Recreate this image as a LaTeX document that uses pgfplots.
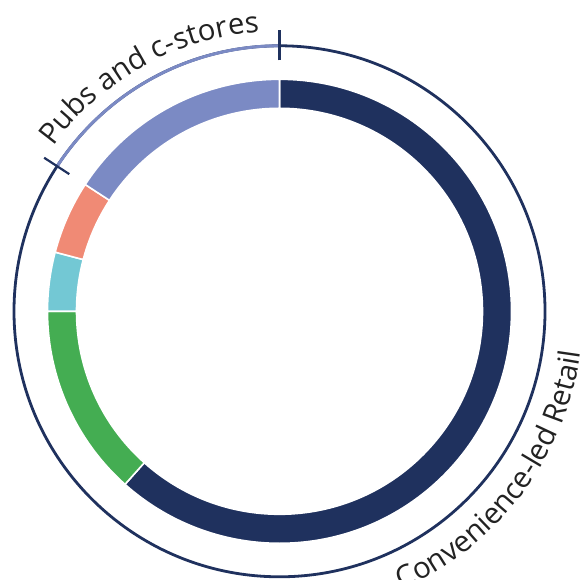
\documentclass[border=0pt]{standalone}
\usepackage{pgfplots}
\pgfplotsset{compat=1.18}
\usepackage{pgfplotstable}
\usepackage{fontspec}
\usetikzlibrary{decorations.text}
\newfontfamily\lab{Open Sans}
\definecolor{cnavy}{HTML}{1F315E}
\definecolor{cgreen}{HTML}{44AD52}
\definecolor{ccyan}{HTML}{73C8D4}
\definecolor{csalmon}{HTML}{F08A75}
\definecolor{clav}{HTML}{7B8AC4}
\definecolor{ctext}{HTML}{222222}

% shares (percent), clockwise from 12 o'clock
\pgfplotstableread{
share
61.6
13.4
4.1
5.1
15.8
}\donut

\pgfplotstablegetelem{0}{share}\of\donut \let\sA\pgfplotsretval
\pgfplotstablegetelem{1}{share}\of\donut \let\sB\pgfplotsretval
\pgfplotstablegetelem{2}{share}\of\donut \let\sC\pgfplotsretval
\pgfplotstablegetelem{3}{share}\of\donut \let\sD\pgfplotsretval
\pgfplotstablegetelem{4}{share}\of\donut \let\sE\pgfplotsretval
\pgfmathsetmacro\aA{90}
\pgfmathsetmacro\aB{\aA-3.6*\sA}
\pgfmathsetmacro\aC{\aB-3.6*\sB+360}
\pgfmathsetmacro\aD{\aC-3.6*\sC}
\pgfmathsetmacro\aE{\aD-3.6*\sD}
\pgfmathsetmacro\aF{\aE-3.6*\sE}

\newcommand\seg[3]{%
  \fill[#1, draw=white, line width=1.6bp] (#2:232bp) arc[start angle=#2, end angle=#3, radius=232bp]
    -- (#3:203bp) arc[start angle=#3, end angle=#2, radius=203bp] -- cycle;}

\begin{document}
\begin{tikzpicture}
\begin{axis}[
  hide axis, scale only axis,
  width=579bp, height=580bp,
  xmin=-279.5, xmax=299.5, ymin=-268.7, ymax=311.3,
  clip=true,
]
\coordinate (ll) at (rel axis cs:0,0);
\coordinate (ur) at (rel axis cs:1,1);
\begin{scope}[shift={(axis cs:0,0)}]
  \seg{cnavy}{\aA}{\aB}
  \seg{cgreen}{\aB+360}{\aC}
  \seg{ccyan}{\aC}{\aD}
  \seg{csalmon}{\aD}{\aE}
  \seg{clav}{\aE}{\aF}
  % outer ring
  \draw[cnavy, line width=2.8bp] (0:0bp) circle[radius=265.5bp];
  \draw[clav, line width=3bp] (\aE:265.5bp) arc[start angle=\aE, end angle=90, radius=265.5bp];
  \draw[cnavy, line width=2.2bp] (90:251bp) -- (90:281bp);
  \draw[cnavy, line width=2.2bp] (\aE:251bp) -- (\aE:281bp);
  % labels
  \path[decorate, decoration={text along path, text align={align=center},
     text={|\lab\fontsize{29.5}{35}\selectfont\color{ctext}|Pubs and c-stores}}]
     (152:280bp) arc[start angle=152, end angle=86, radius=280bp];
  \path[decorate, decoration={text along path, text align={align=center},
     text={|\lab\fontsize{29.5}{35}\selectfont\color{ctext}|Convenience-led Retail}}]
     (-74:304bp) arc[start angle=-74, end angle=0, radius=304bp];
\end{scope}
\end{axis}
\pgfresetboundingbox
\path (ll) rectangle (ur);
\end{tikzpicture}
\end{document}
